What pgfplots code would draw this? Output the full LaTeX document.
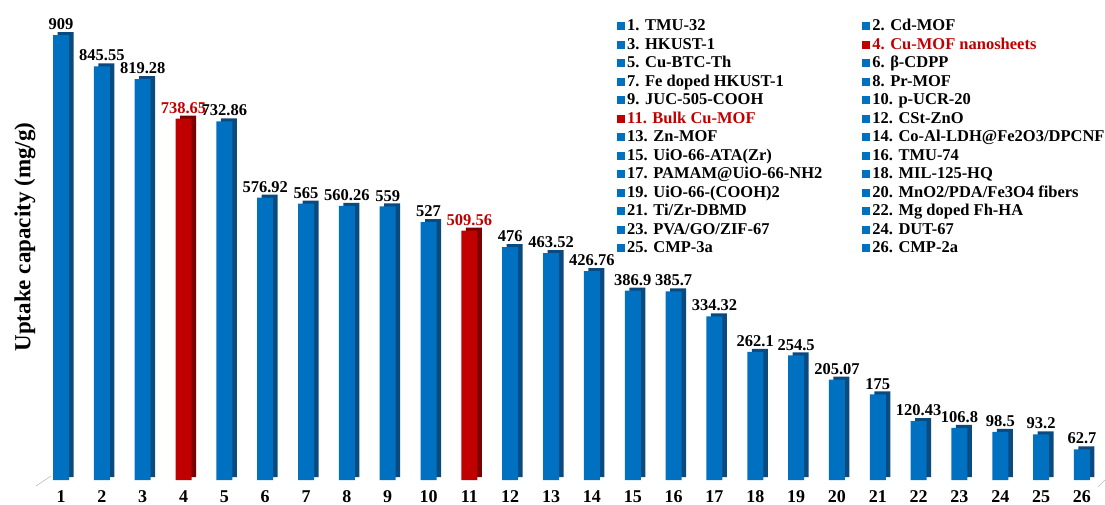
\documentclass[border=0pt]{standalone}
\usepackage{pgfplots}
\pgfplotsset{compat=1.18}
\usepackage{pgfplotstable}
\usepackage{fontspec}
\setmainfont{Liberation Serif}
\definecolor{bfront}{HTML}{0070C0}
\definecolor{bside}{HTML}{0B4A7E}
\definecolor{rfront}{HTML}{C00000}
\definecolor{rside}{HTML}{7A0000}
\definecolor{lred}{HTML}{C00000}

\pgfplotstableread{
x y lab
1 909 909
2 845.55 845.55
3 819.28 819.28
5 732.86 732.86
6 576.92 576.92
7 565 565
8 560.26 560.26
9 559 559
10 527 527
12 476 476
13 463.52 463.52
14 426.76 426.76
15 386.9 386.9
16 385.7 385.7
17 334.32 334.32
18 262.1 262.1
19 254.5 254.5
20 205.07 205.07
21 175 175
22 120.43 120.43
23 106.8 106.8
24 98.5 98.5
25 93.2 93.2
26 62.7 62.7
}\bluedata
\pgfplotstableread{
x y lab
4 738.65 738.65
11 509.56 509.56
}\reddata

\begin{document}
\begin{tikzpicture}
\begin{axis}[
  name=ax,
  scale only axis,
  width=1061.8pt, height=480pt,
  xmin=0.5, xmax=26.5, ymin=0, ymax=981,
  axis line style={draw=none},
  ytick=\empty,
  xtick={1,...,26},
  major tick length=0pt,
  /pgf/number format/assume math mode=true,
  xticklabel style={font=\fontsize{18}{18}\selectfont\bfseries, anchor=base, yshift=-22pt},
  ylabel={Uptake capacity (mg/g)},
  ylabel style={font=\fontsize{23}{23}\selectfont\bfseries, at={(axis description cs:-0.0147,0.506)}, anchor=center},
  clip=false,
  legend columns=2,
  legend cell align=left,
  legend image code/.code={\fill[#1, draw=none] (0pt,-4pt) rectangle (8pt,4pt);},
  legend style={at={(rel axis cs:0.5429,0.9646)}, anchor=north west, draw=none, fill=none,
    inner sep=0pt, font=\fontsize{16.5}{18}\selectfont\bfseries, row sep=0pt,
    nodes={inner xsep=2pt, inner ysep=2pt, text height=11.5pt, text depth=3pt},
    /tikz/every even column/.append style={column sep=38pt}},
  every node near coord/.append style={font=\fontsize{16.5}{16.5}\selectfont\bfseries, inner sep=3pt},
]
% side/top faces
\addplot[ybar, bar width=16pt, bar shift=4.5pt, yshift=3pt, fill=bside, draw=none, forget plot] table[x=x,y=y] {\bluedata};
\addplot[ybar, bar width=16pt, bar shift=4.5pt, yshift=3pt, fill=rside, draw=none, forget plot] table[x=x,y=y] {\reddata};
% front faces
\addplot[ybar, bar width=16pt, bar shift=0pt, fill=bfront, draw=none, forget plot,
  nodes near coords, point meta=explicit symbolic, every node near coord/.append style={text=black, yshift=2pt}] table[x=x,y=y,meta=lab] {\bluedata};
\addplot[ybar, bar width=16pt, bar shift=0pt, fill=rfront, draw=none, forget plot,
  nodes near coords, point meta=explicit symbolic, every node near coord/.append style={text=lred, yshift=2pt}] table[x=x,y=y,meta=lab] {\reddata};
\draw[gray!70] (axis cs:0.387,-12.3) -- (axis cs:0.755,8.2);
\draw[gray!70] (axis cs:26.39,-14.3) -- (axis cs:26.56,0);
% legend
\addlegendimage{fill=bfront}\addlegendentry{1. TMU-32}
\addlegendimage{fill=bfront}\addlegendentry{2. Cd-MOF}
\addlegendimage{fill=bfront}\addlegendentry{3. HKUST-1}
\addlegendimage{fill=rfront}\addlegendentry{\textcolor{lred}{4. Cu-MOF nanosheets}}
\addlegendimage{fill=bfront}\addlegendentry{5. Cu-BTC-Th}
\addlegendimage{fill=bfront}\addlegendentry{6. β-CDPP}
\addlegendimage{fill=bfront}\addlegendentry{7. Fe doped HKUST-1}
\addlegendimage{fill=bfront}\addlegendentry{8. Pr-MOF}
\addlegendimage{fill=bfront}\addlegendentry{9. JUC-505-COOH}
\addlegendimage{fill=bfront}\addlegendentry{10. p-UCR-20}
\addlegendimage{fill=rfront}\addlegendentry{\textcolor{lred}{11. Bulk Cu-MOF}}
\addlegendimage{fill=bfront}\addlegendentry{12. CSt-ZnO}
\addlegendimage{fill=bfront}\addlegendentry{13. Zn-MOF}
\addlegendimage{fill=bfront}\addlegendentry{14. Co-Al-LDH@Fe2O3/DPCNF}
\addlegendimage{fill=bfront}\addlegendentry{15. UiO-66-ATA(Zr)}
\addlegendimage{fill=bfront}\addlegendentry{16. TMU-74}
\addlegendimage{fill=bfront}\addlegendentry{17. PAMAM@UiO-66-NH2}
\addlegendimage{fill=bfront}\addlegendentry{18. MIL-125-HQ}
\addlegendimage{fill=bfront}\addlegendentry{19. UiO-66-(COOH)2}
\addlegendimage{fill=bfront}\addlegendentry{20. MnO2/PDA/Fe3O4 fibers}
\addlegendimage{fill=bfront}\addlegendentry{21. Ti/Zr-DBMD}
\addlegendimage{fill=bfront}\addlegendentry{22. Mg doped Fh-HA}
\addlegendimage{fill=bfront}\addlegendentry{23. PVA/GO/ZIF-67}
\addlegendimage{fill=bfront}\addlegendentry{24. DUT-67}
\addlegendimage{fill=bfront}\addlegendentry{25. CMP-3a}
\addlegendimage{fill=bfront}\addlegendentry{26. CMP-2a}
\end{axis}
\pgfresetboundingbox
\path ([shift={(-40.6pt,-24pt)}]ax.south west) rectangle ([shift={(2.6pt,0pt)}]ax.north east);
\end{tikzpicture}
\end{document}
